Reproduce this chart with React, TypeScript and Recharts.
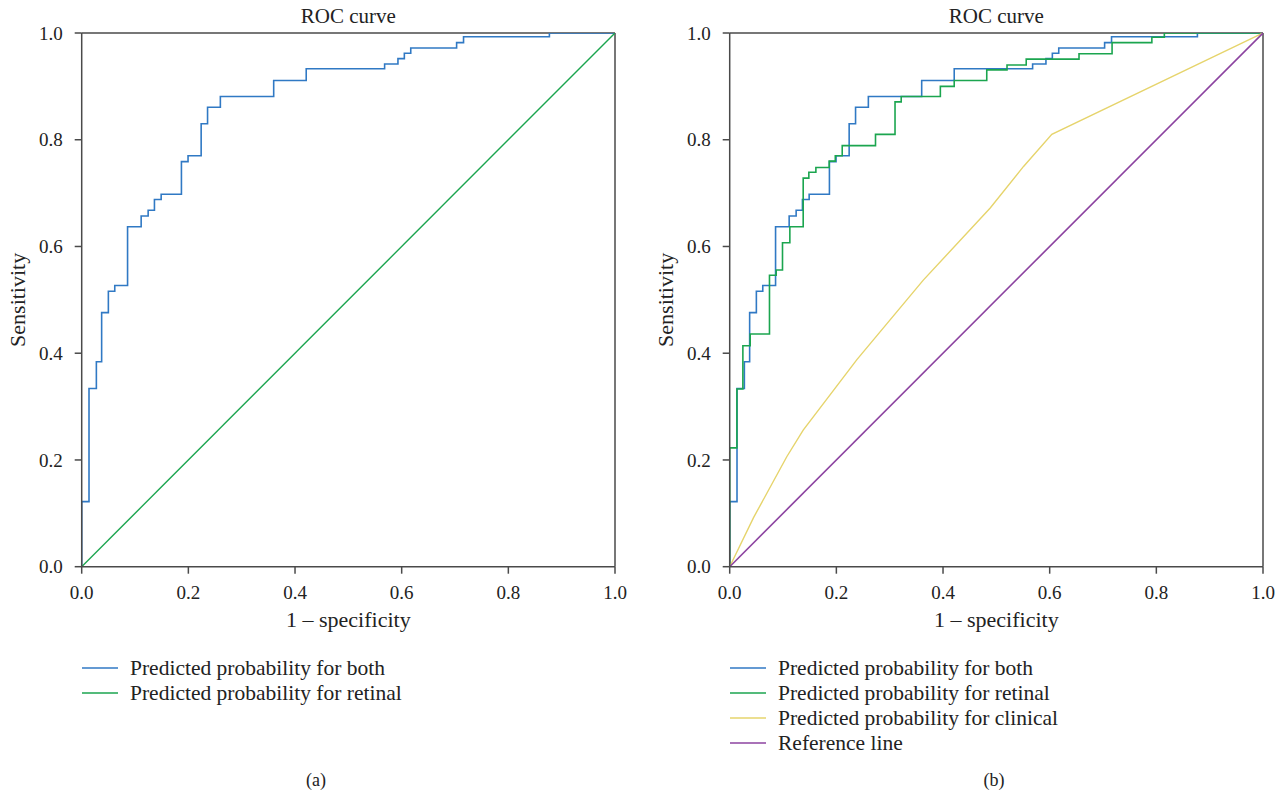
import { LineChart, Line, XAxis, YAxis, ReferenceLine, Label } from "recharts";

// axis ticks
const fprTicks = [0, 0.2, 0.4, 0.6, 0.8, 1.0];
const sensTicks = [0, 0.2, 0.4, 0.6, 0.8, 1.0];

// predicted probability for both (step ROC, fpr where the curve steps up, new tpr)
const bothFpr = [0, 0, 0.0137, 0.0275, 0.0374, 0.05, 0.062, 0.086, 0.1115, 0.1246, 0.1364, 0.149, 0.187, 0.1994, 0.224, 0.236, 0.26, 0.36, 0.421, 0.568, 0.593, 0.605, 0.617, 0.703, 0.716, 0.877, 1.0];
const bothTpr = [0, 0.122, 0.334, 0.384, 0.476, 0.516, 0.527, 0.637, 0.657, 0.668, 0.688, 0.698, 0.759, 0.77, 0.83, 0.861, 0.881, 0.911, 0.933, 0.942, 0.952, 0.962, 0.972, 0.982, 0.993, 1.0, 1.0];

// predicted probability for retinal
const retinalFpr = [0, 0, 0.0135, 0.0247, 0.0384, 0.0746, 0.0872, 0.099, 0.1128, 0.1378, 0.1484, 0.1616, 0.1866, 0.198, 0.211, 0.2734, 0.31, 0.3216, 0.395, 0.421, 0.482, 0.52, 0.556, 0.655, 0.717, 0.7916, 0.815, 1.0];
const retinalTpr = [0, 0.2226, 0.333, 0.414, 0.436, 0.546, 0.556, 0.607, 0.637, 0.728, 0.739, 0.748, 0.76, 0.77, 0.789, 0.81, 0.871, 0.881, 0.9, 0.911, 0.931, 0.94, 0.951, 0.961, 0.982, 0.992, 1.0, 1.0];

// predicted probability for clinical
const clinicalFpr = [0, 0.0447, 0.107, 0.1378, 0.2385, 0.363, 0.4885, 0.551, 0.604, 1.0];
const clinicalTpr = [0, 0.092, 0.206, 0.256, 0.388, 0.537, 0.672, 0.75, 0.81, 1.0];

// diagonal
const diagFpr = [0, 1];
const diagTpr = [0, 1];

const serif = "'Liberation Serif', 'DejaVu Serif', serif";
const axisColor = "#4a4a4a";

type Series = {
  name: string;
  color: string;
  width: number;
  step: boolean;
  fpr: number[];
  tpr: number[];
};

const toPoints = (xs: number[], ys: number[]) =>
  xs.map((x, i) => ({ x, y: ys[i] }));

function RocPanel({
  left,
  series,
  caption,
  captionX,
}: {
  left: number;
  series: Series[];
  caption: string;
  captionX: number;
}) {
  return (
    <div style={{ position: "absolute", left, top: 0, width: 640, height: 797, fontFamily: serif, color: "#222" }}>
      <div style={{ position: "absolute", left: 81.7, width: 533.3, top: 4, textAlign: "center", fontSize: 21, lineHeight: "24px" }}>
        ROC curve
      </div>

      <LineChart width={640} height={640} margin={{ top: 33, right: 25, left: 31.7, bottom: 43.3 }}>
        <XAxis
          type="number"
          dataKey="x"
          domain={[0, 1]}
          ticks={fprTicks}
          tickFormatter={(v: number) => v.toFixed(1)}
          height={30}
          tickSize={7}
          tickMargin={12}
          stroke={axisColor}
          strokeWidth={1.5}
          tick={{ fill: "#222", fontSize: 19, fontFamily: serif }}
          allowDataOverflow
        >
          <Label
            content={(props: any) => {
              const vb = props.viewBox;
              return (
                <text x={vb.x + vb.width / 2} y={627} textAnchor="middle" fontSize={22} fontFamily={serif} fill="#222">
                  1 – specificity
                </text>
              );
            }}
          />
        </XAxis>
        <YAxis
          type="number"
          domain={[0, 1]}
          ticks={sensTicks}
          tickFormatter={(v: number) => v.toFixed(1)}
          width={50}
          tickSize={7}
          tickMargin={12}
          stroke={axisColor}
          strokeWidth={1.5}
          tick={{ fill: "#222", fontSize: 19, fontFamily: serif }}
          allowDataOverflow
        >
          <Label
            content={(props: any) => {
              const vb = props.viewBox;
              const cx = 25;
              const cy = vb.y + vb.height / 2;
              return (
                <text x={cx} y={cy} transform={`rotate(-90, ${cx}, ${cy})`} textAnchor="middle" fontSize={22} fontFamily={serif} fill="#222">
                  Sensitivity
                </text>
              );
            }}
          />
        </YAxis>
        <ReferenceLine y={1} stroke={axisColor} strokeWidth={1.5} />
        <ReferenceLine x={1} stroke={axisColor} strokeWidth={1.5} />
        {series.map((s) => (
          <Line
            key={s.name}
            data={toPoints(s.fpr, s.tpr)}
            dataKey="y"
            type={s.step ? "stepAfter" : "linear"}
            stroke={s.color}
            strokeWidth={s.width}
            dot={false}
            activeDot={false}
            isAnimationActive={false}
          />
        ))}
      </LineChart>

      {series.map((s, i) => (
        <div key={s.name} style={{ position: "absolute", left: 82, top: 668 + i * 25 - 12, height: 24, display: "flex", alignItems: "center" }}>
          <svg width={36} height={4} style={{ marginRight: 12 }}>
            <line x1={0} y1={2} x2={36} y2={2} stroke={s.color} strokeWidth={1.6} />
          </svg>
          <span style={{ fontSize: 21.5, whiteSpace: "nowrap" }}>{s.name}</span>
        </div>
      ))}

      <div style={{ position: "absolute", left: captionX - 30, width: 60, top: 770, textAlign: "center", fontSize: 18 }}>
        {caption}
      </div>
    </div>
  );
}

export default function App() {
  const blue = "#3079c4";
  const green = "#1ba54f";
  const yellow = "#e6d46c";
  const purple = "#8c43a0";

  const leftSeries: Series[] = [
    { name: "Predicted probability for both", color: blue, width: 1.6, step: true, fpr: bothFpr, tpr: bothTpr },
    { name: "Predicted probability for retinal", color: green, width: 1.4, step: false, fpr: diagFpr, tpr: diagTpr },
  ];

  const rightSeries: Series[] = [
    { name: "Predicted probability for both", color: blue, width: 1.6, step: true, fpr: bothFpr, tpr: bothTpr },
    { name: "Predicted probability for retinal", color: green, width: 1.6, step: true, fpr: retinalFpr, tpr: retinalTpr },
    { name: "Predicted probability for clinical", color: yellow, width: 1.4, step: false, fpr: clinicalFpr, tpr: clinicalTpr },
    { name: "Reference line", color: purple, width: 1.6, step: false, fpr: diagFpr, tpr: diagTpr },
  ];

  return (
    <div style={{ position: "absolute", left: 0, top: 0, width: 1282, height: 797, background: "#fff" }}>
      <RocPanel left={0} series={leftSeries} caption="(a)" captionX={316} />
      <RocPanel left={648} series={rightSeries} caption="(b)" captionX={346} />
    </div>
  );
}
